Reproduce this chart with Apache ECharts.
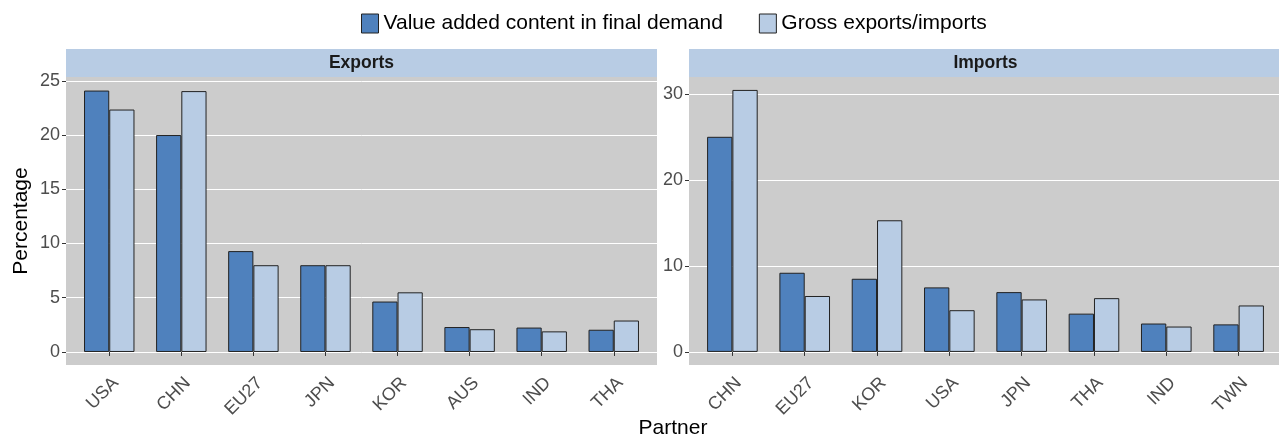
<!DOCTYPE html>
<html>
<head>
<meta charset="utf-8">
<script src="https://cdn.jsdelivr.net/npm/echarts@6/dist/echarts.min.js"></script>
<style>
  html, body { margin: 0; padding: 0; background: #fff; overflow: hidden; }
  #chart { width: 1279px; height: 439px; }
</style>
</head>
<body>
<div id="chart"></div>
<script>
// data
var seriesNames = ['Value added content in final demand', 'Gross exports/imports'];
var exportPartners = ['USA', 'CHN', 'EU27', 'JPN', 'KOR', 'AUS', 'IND', 'THA'];
var exportValueAdded = [24.1, 20.0, 9.3, 8.0, 4.65, 2.3, 2.25, 2.05];
var exportGross = [22.35, 24.05, 8.0, 8.0, 5.5, 2.1, 1.9, 2.9];
var importPartners = ['CHN', 'EU27', 'KOR', 'USA', 'JPN', 'THA', 'IND', 'TWN'];
var importValueAdded = [25.0, 9.2, 8.5, 7.5, 6.95, 4.45, 3.3, 3.2];
var importGross = [30.45, 6.5, 15.3, 4.85, 6.1, 6.25, 2.95, 5.4];
var panelTitles = ['Exports', 'Imports'];

var font = "'Liberation Sans', Arial, sans-serif";
var darkBlue = '#4F81BD';
var lightBlue = '#B8CCE4';

// panels: full grey box, bars sit in an inner grid (ggplot adds 0.6 of a band on each side)
// the right panel runs a little past the picture edge, as in the original
var panels = [
    {left: 66, width: 591, yMin: -1.2, yMax: 25.35, split: 5},
    {left: 689, width: 593, yMin: -1.52, yMax: 31.95, split: 3}
];
var plotTop = 77, plotHeight = 288;

var chart = echarts.init(document.getElementById('chart'), null, {renderer: 'canvas'});

var grids = [], xAxes = [], yAxes = [];
panels.forEach(function (p, i) {
    var unit = p.width / 8.2;
    grids.push({left: p.left, top: plotTop, width: p.width, height: plotHeight, show: true, backgroundColor: '#CCCCCC', borderWidth: 0});
    grids.push({left: p.left + unit * 0.1, top: plotTop, width: unit * 8, height: plotHeight, show: false});

    xAxes.push({type: 'value', gridIndex: i * 2, show: false, min: 0, max: 1});
    xAxes.push({
        type: 'category',
        gridIndex: i * 2 + 1,
        data: i === 0 ? exportPartners : importPartners,
        axisLine: {show: false},
        axisTick: {show: true, alignWithLabel: true, interval: 0, length: 4, lineStyle: {color: '#333'}},
        axisLabel: {interval: 0, rotate: 45, fontSize: 18, color: '#4D4D4D', fontFamily: font, margin: 9, verticalAlign: 'top'},
        splitLine: {show: false}
    });

    yAxes.push({
        type: 'value',
        gridIndex: i * 2,
        min: p.yMin,
        max: p.yMax,
        splitNumber: p.split,
        axisLine: {show: false},
        axisTick: {show: true, length: 4, lineStyle: {color: '#333'}},
        axisLabel: {fontSize: 18, color: '#4D4D4D', fontFamily: font, margin: 6, showMinLabel: false, showMaxLabel: false},
        splitLine: {show: true, showMinLine: false, showMaxLine: false, lineStyle: {color: '#fff', width: 1}}
    });
    yAxes.push({type: 'value', gridIndex: i * 2 + 1, show: false, min: p.yMin, max: p.yMax, splitLine: {show: false}});
});

yAxes[0].name = 'Percentage';
yAxes[0].nameLocation = 'middle';
yAxes[0].nameGap = 34;
yAxes[0].nameTextStyle = {fontSize: 21, color: '#000', fontFamily: font};

function barSeries(name, axisIdx, values, color) {
    return {
        name: name,
        type: 'bar',
        xAxisIndex: axisIdx,
        yAxisIndex: axisIdx,
        data: values,
        barGap: '0%',
        barCategoryGap: '30%',
        itemStyle: {color: color, borderColor: '#222', borderWidth: 1},
        emphasis: {disabled: true}
    };
}

function strip(x, w, label) {
    return {
        type: 'group',
        children: [
            {type: 'rect', shape: {x: x, y: 49, width: w, height: 28}, style: {fill: lightBlue}},
            {type: 'text', x: x + w / 2, y: 63.5, style: {text: label, font: 'bold 17.5px ' + font, fill: '#1A1A1A', align: 'center', verticalAlign: 'middle'}}
        ]
    };
}

var option = {
    backgroundColor: '#fff',
    animation: false,
    legend: {
        data: seriesNames,
        left: 356,
        top: 8,
        icon: 'rect',
        itemWidth: 17,
        itemHeight: 19,
        itemGap: 36,
        itemStyle: {borderColor: '#222', borderWidth: 1},
        textStyle: {fontSize: 21, color: '#000', fontFamily: font}
    },
    grid: grids,
    xAxis: xAxes,
    yAxis: yAxes,
    series: [
        barSeries(seriesNames[0], 1, exportValueAdded, darkBlue),
        barSeries(seriesNames[1], 1, exportGross, lightBlue),
        barSeries(seriesNames[0], 3, importValueAdded, darkBlue),
        barSeries(seriesNames[1], 3, importGross, lightBlue)
    ],
    graphic: [
        strip(panels[0].left, panels[0].width, panelTitles[0]),
        strip(panels[1].left, panels[1].width, panelTitles[1]),
        {type: 'text', x: 673, y: 428, style: {text: 'Partner', font: '21px ' + font, fill: '#000', align: 'center', verticalAlign: 'middle'}}
    ]
};

chart.setOption(option);
</script>
</body>
</html>
